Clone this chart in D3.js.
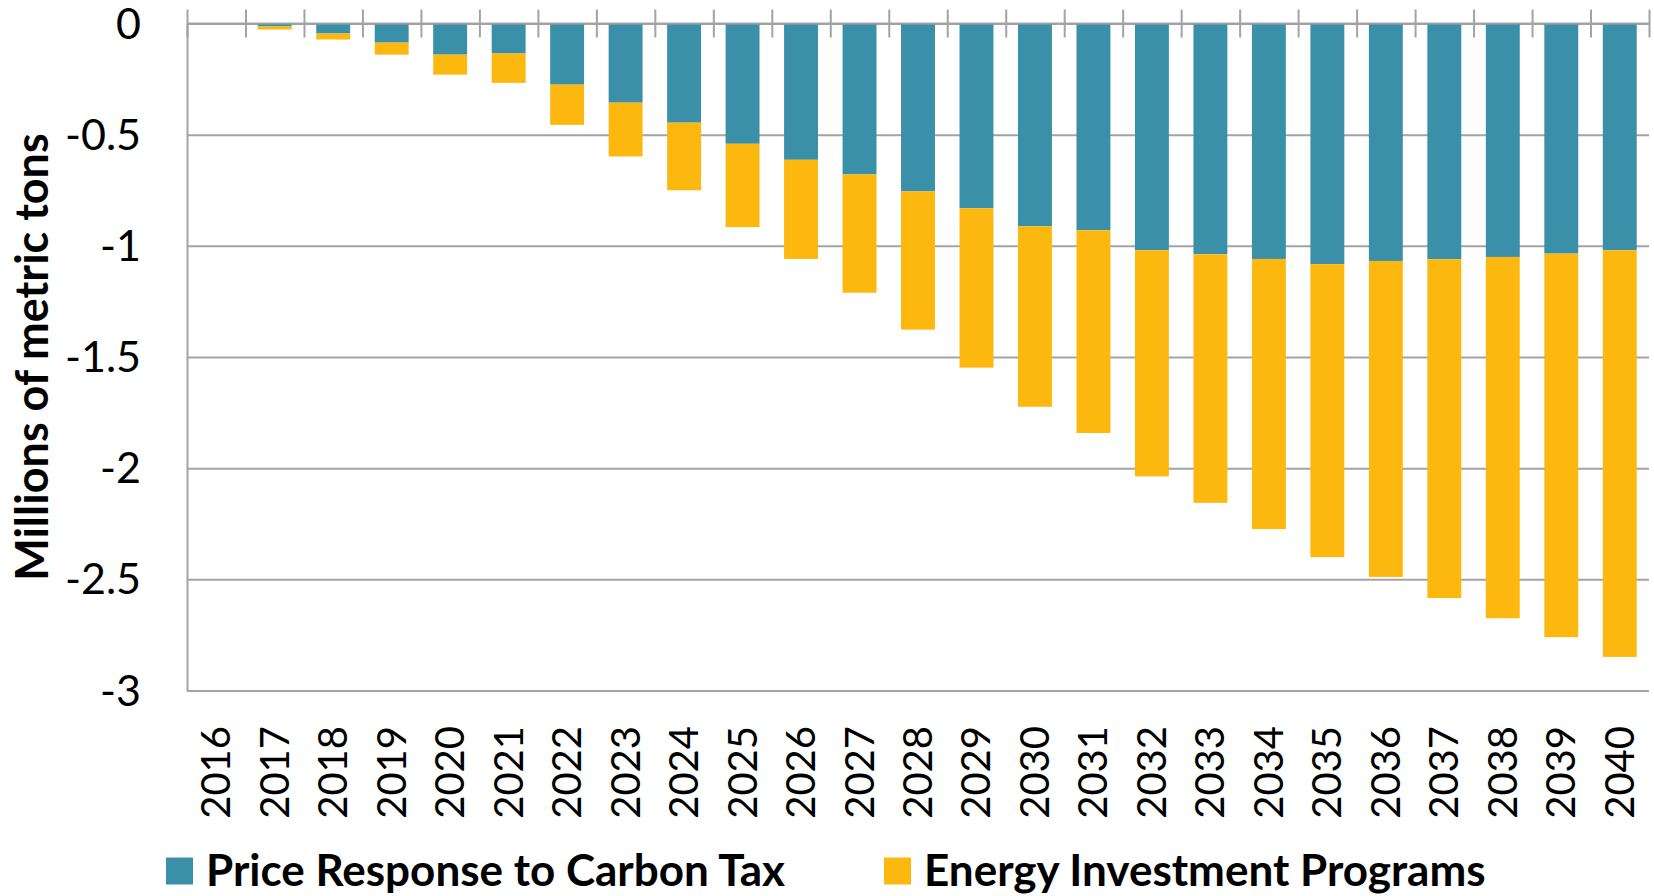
<!DOCTYPE html>
<html>
<head>
<meta charset="utf-8">
<script src="https://cdn.jsdelivr.net/npm/d3@7"></script>
<style>
  body { margin: 0; background: #fff; }
  svg { display: block; font-family: Lato, "Open Sans", sans-serif; }
</style>
</head>
<body>
<div id="chart"></div>
<script>
var years = ["2016","2017","2018","2019","2020","2021","2022","2023","2024","2025","2026","2027","2028",
             "2029","2030","2031","2032","2033","2034","2035","2036","2037","2038","2039","2040"];
var priceResponse = [0, -0.013, -0.045, -0.086, -0.14, -0.135, -0.275, -0.356, -0.446, -0.541, -0.613, -0.679, -0.755,
                     -0.831, -0.912, -0.93, -1.02, -1.038, -1.059, -1.082, -1.068, -1.06, -1.05, -1.035, -1.02];
var energyInvestment = [0, -0.014, -0.027, -0.054, -0.09, -0.132, -0.181, -0.242, -0.304, -0.375, -0.446, -0.532, -0.622,
                        -0.717, -0.812, -0.912, -1.017, -1.118, -1.215, -1.318, -1.421, -1.524, -1.625, -1.725, -1.829];
var yTicks = [0, -0.5, -1, -1.5, -2, -2.5, -3];
var seriesNames = ["Price Response to Carbon Tax", "Energy Investment Programs"];
var colors = ["#3a90a8", "#fdb80f"];

function DrawChart() {
  var width = 1654, height = 896;
  var left = 187, right = 1649, top = 23.5, bottom = 690.5;
  var gridColor = "#a3a3a3";

  var svg = d3.select("#chart").append("svg")
    .attr("width", width)
    .attr("height", height);

  var xScale = d3.scaleBand()
    .domain(years)
    .range([left, right])
    .paddingInner(0.42)
    .paddingOuter(0.21);

  var yScale = d3.scaleLinear()
    .domain([0, -3])
    .range([top, bottom]);

  // gridlines + y labels
  var yAxis = d3.axisLeft(yScale)
    .tickValues(yTicks)
    .tickSizeInner(-(right - left))
    .tickSizeOuter(0)
    .tickPadding(46)
    .tickFormat(function(d) { return String(d); });

  var yAxisGroup = svg.append("g")
    .attr("transform", "translate(" + left + ",0)")
    .call(yAxis);
  yAxisGroup.select(".domain").attr("stroke", gridColor).attr("stroke-width", 2);
  yAxisGroup.selectAll(".tick line").attr("stroke", gridColor).attr("stroke-width", 2);
  yAxisGroup.selectAll(".tick text")
    .attr("fill", "#000")
    .attr("dy", "0.34em")
    .style("font-size", "43px")
    .style("font-family", "Lato, sans-serif");

  // stacked bars
  var stacks = [
    { name: seriesNames[0], color: colors[0], values: priceResponse.map(function(v) { return [0, v]; }) },
    { name: seriesNames[1], color: colors[1], values: energyInvestment.map(function(v, i) { return [priceResponse[i], priceResponse[i] + v]; }) }
  ];

  stacks.forEach(function(s) {
    svg.append("g").selectAll("rect")
      .data(s.values)
      .enter()
      .append("rect")
      .attr("x", function(d, i) { return xScale(years[i]); })
      .attr("y", function(d) { return yScale(d[0]); })
      .attr("width", xScale.bandwidth())
      .attr("height", function(d) { return yScale(d[1]) - yScale(d[0]); })
      .style("fill", s.color);
  });

  // category axis at zero, tick marks crossing
  var edgeScale = d3.scaleLinear().domain([0, years.length]).range([left, right]);
  var tickAxis = d3.axisBottom(edgeScale)
    .tickValues(d3.range(years.length + 1))
    .tickSize(14)
    .tickFormat("");
  var tickGroup = svg.append("g")
    .attr("transform", "translate(0," + yScale(0) + ")")
    .call(tickAxis);
  tickGroup.select(".domain").remove();
  tickGroup.selectAll(".tick line")
    .attr("y1", -14)
    .attr("y2", 14)
    .attr("stroke", gridColor)
    .attr("stroke-width", 2);
  svg.append("line")
    .attr("x1", left).attr("x2", right)
    .attr("y1", yScale(0)).attr("y2", yScale(0))
    .attr("stroke", gridColor).attr("stroke-width", 2);

  // year labels, low position
  var labelAxis = d3.axisBottom(xScale).tickSize(0).tickPadding(0);
  var labelGroup = svg.append("g")
    .attr("transform", "translate(0," + 726 + ")")
    .call(labelAxis);
  labelGroup.select(".domain").remove();
  labelGroup.selectAll(".tick text")
    .attr("transform", "rotate(-90)")
    .attr("x", 0)
    .attr("y", 0)
    .attr("dy", "0.35em")
    .style("text-anchor", "end")
    .attr("fill", "#000")
    .style("font-size", "40px")
    .style("font-family", "Lato, sans-serif");

  // y title
  svg.append("text")
    .attr("transform", "translate(32," + 357 + ") rotate(-90)")
    .attr("text-anchor", "middle")
    .attr("dy", "0.35em")
    .style("font-size", "45px")
    .style("font-weight", "bold")
    .text("Millions of metric tons");

  // legend
  var legendX = [166, 884];
  var legend = svg.append("g").selectAll("g")
    .data(seriesNames)
    .enter()
    .append("g")
    .attr("transform", function(d, i) { return "translate(" + legendX[i] + ",871)"; });
  legend.append("rect")
    .attr("x", 0).attr("y", -13.5)
    .attr("width", 27).attr("height", 27)
    .style("fill", function(d, i) { return colors[i]; });
  legend.append("text")
    .attr("x", 40)
    .attr("dy", "0.35em")
    .style("font-size", "44px")
    .style("font-weight", "bold")
    .text(function(d) { return d; });
}

DrawChart();
</script>
</body>
</html>
